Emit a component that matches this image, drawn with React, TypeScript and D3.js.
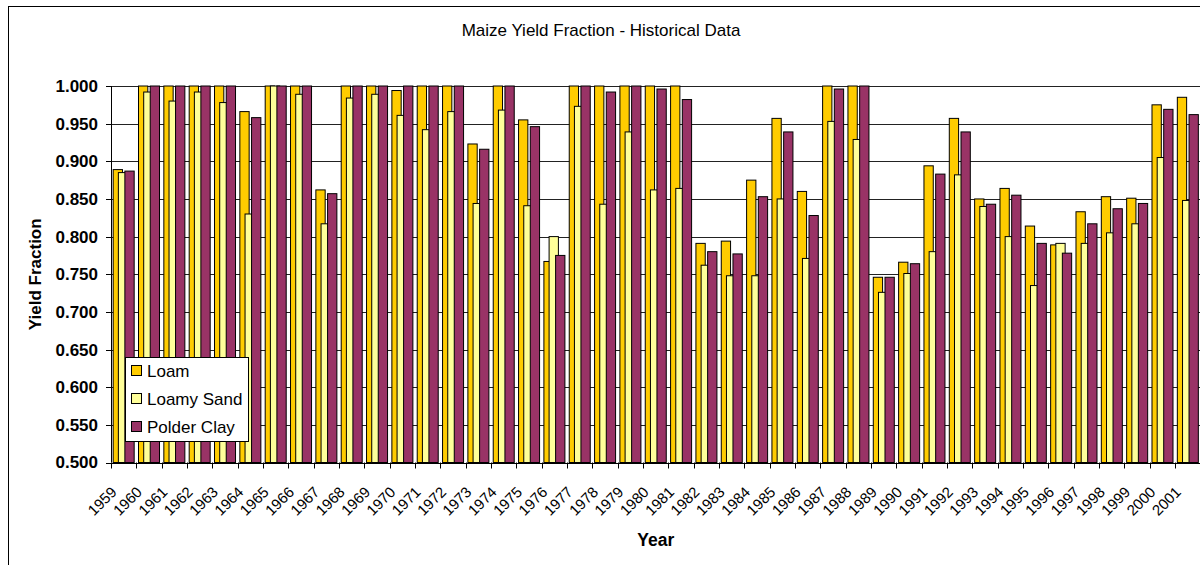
import React from "react";
import * as d3 from "d3";

const years: string[] = [
  "1959","1960","1961","1962","1963","1964","1965","1966","1967","1968",
  "1969","1970","1971","1972","1973","1974","1975","1976","1977","1978",
  "1979","1980","1981","1982","1983","1984","1985","1986","1987","1988",
  "1989","1990","1991","1992","1993","1994","1995","1996","1997","1998",
  "1999","2000","2001",
];

const loam: number[] = [
  0.889, 1.0, 1.0, 1.0, 1.0, 0.966, 1.0, 1.0, 0.862, 1.0,
  1.0, 0.994, 1.0, 1.0, 0.923, 1.0, 0.955, 0.767, 1.0, 1.0,
  1.0, 1.0, 1.0, 0.791, 0.794, 0.875, 0.957, 0.86, 1.0, 1.0,
  0.746, 0.766, 0.894, 0.957, 0.85, 0.864, 0.814, 0.789, 0.833, 0.853,
  0.851, 0.975, 0.985,
];

const loamySand: number[] = [
  0.885, 0.992, 0.98, 0.992, 0.978, 0.83, 1.0, 0.989, 0.817, 0.984,
  0.989, 0.961, 0.942, 0.966, 0.844, 0.968, 0.841, 0.8, 0.973, 0.843,
  0.939, 0.862, 0.864, 0.762, 0.748, 0.748, 0.85, 0.771, 0.953, 0.929,
  0.726, 0.751, 0.78, 0.882, 0.84, 0.8, 0.735, 0.791, 0.791, 0.805,
  0.817, 0.905, 0.848,
];

const polderClay: number[] = [
  0.887, 1.0, 1.0, 1.0, 1.0, 0.958, 1.0, 1.0, 0.857, 1.0,
  1.0, 1.0, 1.0, 1.0, 0.916, 1.0, 0.946, 0.775, 1.0, 0.992,
  1.0, 0.996, 0.982, 0.78, 0.777, 0.853, 0.939, 0.828, 0.996, 1.0,
  0.746, 0.764, 0.883, 0.939, 0.843, 0.855, 0.791, 0.778, 0.817, 0.837,
  0.844, 0.969, 0.962,
];

const seriesNames: string[] = ["Loam", "Loamy Sand", "Polder Clay"];
const seriesColors: string[] = ["#FFCC00", "#FFFF99", "#993366"];
const yTicks: number[] = [0.5, 0.55, 0.6, 0.65, 0.7, 0.75, 0.8, 0.85, 0.9, 0.95, 1.0];

const title = "Maize Yield Fraction - Historical Data";
const yTitle = "Yield Fraction";
const xTitle = "Year";

const FONT = "'Liberation Sans', Arial, Helvetica, sans-serif";

export default function App() {
  const W = 1200;
  const H = 565;
  const left = 111;
  const right = 1200.5;
  const top = 86;
  const bottom = 462.5;

  const x = d3.scaleBand<string>().domain(years).range([left, right]).paddingInner(0).paddingOuter(0);
  const y = d3.scaleLinear().domain([0.5, 1.0]).range([bottom, top]);
  const bw = x.bandwidth();

  const groupStart = bw * 0.0856;
  const offsets = [0, bw * 0.205, bw * 0.462];
  const barW = bw * 0.367;

  const series = [loam, loamySand, polderClay];

  const crisp = (v: number) => Math.round(v) + 0.5;

  const legendX = 125.5;
  const legendY = 357.5;
  const legendRows = [371, 399, 427];

  return (
    <svg
      width={W}
      height={H}
      style={{ position: "absolute", left: 0, top: 0, background: "#fff" }}
      fontFamily={FONT}
    >
      <rect x={0} y={0} width={W} height={H} fill="#fff" />
      <rect x={8.5} y={6.5} width={1400} height={800} fill="none" stroke="#000" strokeWidth={1} />

      <text x={601} y={36} textAnchor="middle" fontSize={17} fill="#000">
        {title}
      </text>

      {/* gridlines */}
      {yTicks.map((t) => (
        <line
          key={"g" + t}
          x1={left}
          x2={right}
          y1={crisp(y(t))}
          y2={crisp(y(t))}
          stroke="#222"
          strokeWidth={1}
        />
      ))}

      {/* bars */}
      {years.map((yr, i) => (
        <g key={yr}>
          {series.map((s, si) => {
            const x0 = (x(yr) as number) + groupStart + offsets[si];
            const yv = y(s[i]);
            return (
              <rect
                key={si}
                x={x0}
                y={yv}
                width={barW}
                height={bottom - yv}
                fill={seriesColors[si]}
                stroke="#000"
                strokeWidth={1}
              />
            );
          })}
        </g>
      ))}

      {/* axes */}
      <line x1={crisp(left)} x2={crisp(left)} y1={top} y2={bottom} stroke="#000" strokeWidth={1} />
      <line x1={left} x2={right} y1={crisp(bottom)} y2={crisp(bottom)} stroke="#000" strokeWidth={1} />

      {yTicks.map((t) => (
        <g key={"yt" + t}>
          <line x1={left - 5} x2={left} y1={crisp(y(t))} y2={crisp(y(t))} stroke="#000" />
          <text
            x={98}
            y={y(t)}
            dy="0.35em"
            textAnchor="end"
            fontSize={17}
            fontWeight="bold"
            fill="#000"
          >
            {d3.format(".3f")(t)}
          </text>
        </g>
      ))}

      {years.map((yr) => (
        <line
          key={"xt" + yr}
          x1={crisp(x(yr) as number)}
          x2={crisp(x(yr) as number)}
          y1={bottom}
          y2={bottom + 6}
          stroke="#000"
        />
      ))}

      {years.map((yr) => {
        const cx = (x(yr) as number) + bw / 2;
        return (
          <text
            key={"xl" + yr}
            transform={`translate(${cx - 6},${493}) rotate(-45)`}
            textAnchor="end"
            fontSize={15}
            fill="#000"
          >
            {yr}
          </text>
        );
      })}

      <text
        transform={`translate(${41},${(top + bottom) / 2}) rotate(-90)`}
        textAnchor="middle"
        fontSize={17}
        fontWeight="bold"
        fill="#000"
      >
        {yTitle}
      </text>

      <text x={(left + right) / 2} y={546} textAnchor="middle" fontSize={17.5} fontWeight="bold" fill="#000">
        {xTitle}
      </text>

      {/* legend */}
      <rect x={legendX} y={legendY} width={123} height={84} fill="#fff" stroke="#000" strokeWidth={1} />
      {seriesNames.map((name, i) => (
        <g key={name}>
          <rect
            x={131.5}
            y={legendRows[i] - 5.5}
            width={10}
            height={10}
            fill={seriesColors[i]}
            stroke="#000"
            strokeWidth={1}
          />
          <text x={147} y={legendRows[i]} dy="0.35em" fontSize={17} fill="#000">
            {name}
          </text>
        </g>
      ))}
    </svg>
  );
}
